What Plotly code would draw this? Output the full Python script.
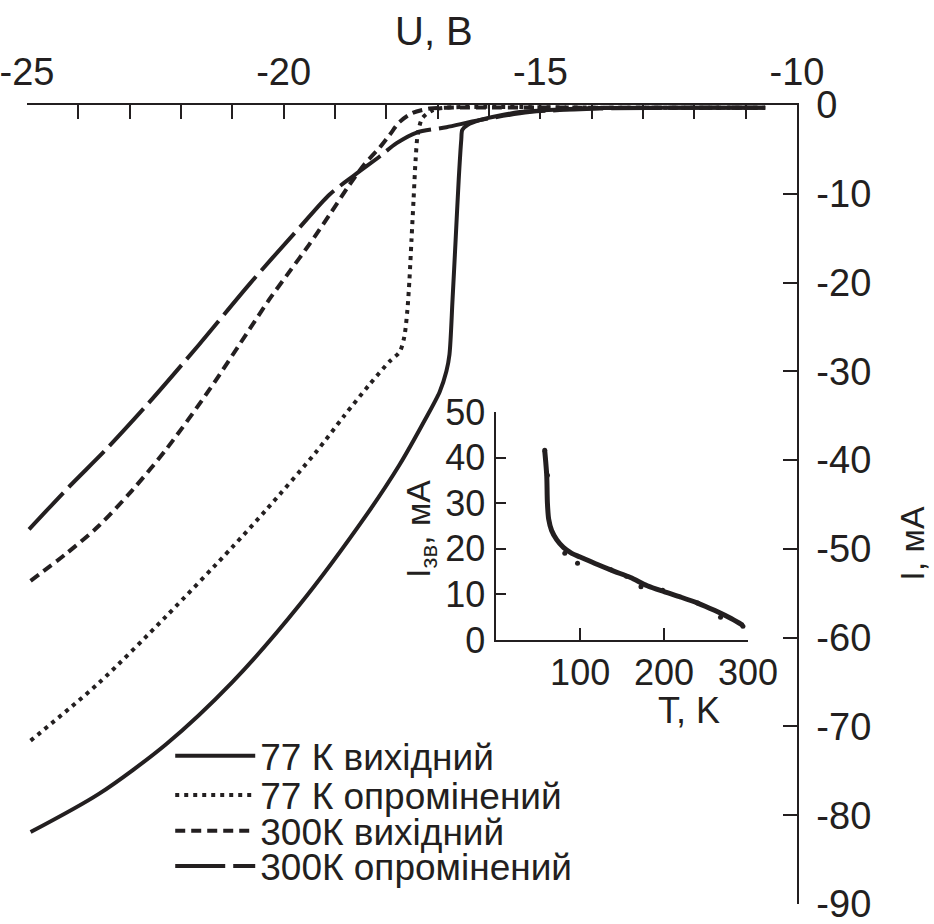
import plotly.graph_objects as go

INK = "#231f20"
FONT = "Liberation Sans, Arial, sans-serif"

# ---- main chart data: U (V) vs I (mA) ----
u_77_init = [-24.93, -23.60, -22.29, -21.00, -19.69, -18.39, -17.74, -17.26, -16.96, -16.83,
             -16.77, -16.71, -16.65, -16.59, -16.54, -16.52, -16.42, -16.18, -15.40, -14.62,
             -13.84, -12.28, -10.62]
i_77_init = [-81.9, -77.6, -72.0, -65.0, -56.3, -46.2, -40.5, -35.6, -32.3, -30.0,
             -28.1, -21.9, -15.2, -8.4, -3.9, -2.8, -2.25, -1.7, -0.8, -0.5,
             -0.35, -0.3, -0.3]

u_77_irr = [-24.93, -23.60, -22.29, -21.00, -20.34, -19.37, -18.82, -18.33, -17.94, -17.74,
            -17.65, -17.59, -17.55, -17.51, -17.47, -17.43, -17.39, -17.30, -17.10, -16.83,
            -13.84, -10.62]
i_77_irr = [-71.6, -65.1, -57.6, -49.8, -45.6, -39.1, -35.0, -31.5, -28.9, -27.8,
            -26.1, -23.1, -19.7, -15.2, -10.7, -6.2, -3.4, -1.5, -0.6, -0.3,
            -0.3, -0.3]

u_300_init = [-24.93, -24.25, -23.60, -22.95, -22.29, -21.45, -20.67, -20.28, -19.89, -19.50,
              -19.11, -18.72, -18.43, -18.13, -17.94, -17.74, -17.49, -17.16, -16.83, -13.84,
              -10.62]
i_300_init = [-53.6, -50.6, -47.4, -43.4, -38.8, -32.1, -25.3, -21.9, -18.8, -15.7,
              -12.4, -9.0, -6.7, -4.8, -3.4, -1.9, -0.9, -0.4, -0.3, -0.3,
              -0.3]

u_300_irr = [-24.96, -24.18, -23.46, -22.62, -21.65, -20.67, -19.69, -19.11, -18.62, -18.13,
             -17.80, -17.41, -16.83, -16.18, -15.21, -13.84, -11.89, -10.62]
i_300_irr = [-47.8, -43.0, -38.8, -33.5, -27.0, -20.2, -13.8, -10.1, -7.9, -5.8,
             -4.3, -3.1, -2.5, -1.7, -0.8, -0.4, -0.3, -0.3]

# ---- inset data: T (K) vs I_зв (mA) ----
t_fit = [57.8, 59, 60.2, 61, 62.5, 66, 72, 80, 90, 100, 120, 140, 160, 180, 200,
         220, 240, 260, 280, 294]
i_fit = [41.5, 39, 36, 30, 26.5, 24, 22, 20.3, 19.0, 18.2, 16.6, 15.1, 13.7, 11.9, 10.6,
         9.4, 8.1, 6.5, 4.7, 3.2]
t_pts = [57.8, 61.0, 81.7, 96.9, 136.7, 155.4, 172.5, 198.4, 240.2, 267.3, 294.0]
i_pts = [41.6, 36.1, 19.0, 16.8, 15.4, 14.0, 11.7, 10.9, 8.1, 5.0, 3.0]

x_ticks = [-25, -20, -15, -10]
x_ticktext = ["-25", "-20", "-15", "-10"]
y_ticks = [0, -10, -20, -30, -40, -50, -60, -70, -80, -90]
y_ticktext = ["0", "-10", "-20", "-30", "-40", "-50", "-60", "-70", "-80", "-90"]
t_ticks = [100, 200, 300]
iz_ticks = [0, 10, 20, 30, 40, 50]

names = ["77 К вихідний", "77 К опромінений", "300К вихідний", "300К опромінений"]
dashes = ["solid", "4px,5px", "10px,6px", "50px,8px"]
series = [(u_77_init, i_77_init), (u_77_irr, i_77_irr),
          (u_300_init, i_300_init), (u_300_irr, i_300_irr)]
legend_ids = ["legend", "legend2", "legend3", "legend4"]
legend_y = [0.185, 0.136, 0.091, 0.047]

fig = go.Figure()
for (u, i), nm, dsh, lid in zip(series, names, dashes, legend_ids):
    fig.add_trace(go.Scatter(x=u, y=i, mode="lines", name=nm, legend=lid,
                             line=dict(color=INK, width=4, dash=dsh, shape="spline",
                                       smoothing=0.8),
                             xaxis="x", yaxis="y"))

fig.add_trace(go.Scatter(x=t_fit, y=i_fit, mode="lines", showlegend=False,
                         line=dict(color=INK, width=5, shape="spline", smoothing=0.8),
                         xaxis="x2", yaxis="y2"))
fig.add_trace(go.Scatter(x=t_pts, y=i_pts, mode="markers", showlegend=False,
                         marker=dict(color=INK, size=5),
                         xaxis="x2", yaxis="y2"))

tickfont = dict(family=FONT, size=38, color=INK)
insetfont = dict(family=FONT, size=36, color=INK)

common = dict(showline=True, linecolor=INK, linewidth=1.5, showgrid=False, zeroline=False,
              tickcolor=INK, tickwidth=1.5, automargin=False, ticklabeloverflow="allow")

layout = dict(
    template="none",
    width=934, height=924,
    margin=dict(l=27, r=137, t=105, b=20, autoexpand=False),
    paper_bgcolor="white", plot_bgcolor="white",
    font=dict(family=FONT, color=INK),
    xaxis=dict(domain=[0, 1], range=[-25, -10], side="top", anchor="y",
               tickmode="array", tickvals=x_ticks, ticktext=x_ticktext,
               ticks="inside", ticklen=14,
               minor=dict(dtick=1, ticks="inside", ticklen=14, tickwidth=1.5, tickcolor=INK),
               tickfont=tickfont, ticklabelstandoff=3, **common),
    yaxis=dict(domain=[0, 1], range=[-90, 0], side="right", anchor="x",
               tickmode="array", tickvals=y_ticks, ticktext=y_ticktext,
               ticks="inside", ticklen=14,
               tickfont=tickfont, ticklabelstandoff=10, **common),
    xaxis2=dict(domain=[0.6094, 0.9363], range=[0, 300], anchor="y2",
                tickvals=t_ticks, ticks="inside", ticklen=12,
                tickfont=insetfont, ticklabelstandoff=0, **common),
    yaxis2=dict(domain=[0.3304, 0.6159], range=[0, 50], anchor="x2",
                tickvals=iz_ticks, ticks="inside", ticklen=10,
                tickfont=insetfont, ticklabelstandoff=2, **common),
    showlegend=True,
)
for lid, ly in zip(legend_ids, legend_y):
    layout[lid] = dict(x=0.1860, y=ly, xanchor="left", yanchor="middle",
                       bgcolor="rgba(0,0,0,0)", borderwidth=0, itemwidth=80,
                       font=dict(family=FONT, size=37, color=INK))

fig.update_layout(**layout)

ann = [
    dict(text="U, В", x=0.528, y=1.0925, font=dict(family=FONT, size=40, color=INK)),
    dict(text="I, мА", x=1.1495, y=0.451, textangle=-90,
         font=dict(family=FONT, size=34, color=INK)),
    dict(text="I<sub>зв</sub>, мА", x=0.511, y=0.47, textangle=-90,
         font=dict(family=FONT, size=34, color=INK)),
    dict(text="T, K", x=0.8596, y=0.242, font=dict(family=FONT, size=36, color=INK)),
]
for a in ann:
    a.update(xref="paper", yref="paper", showarrow=False, xanchor="center", yanchor="middle")
fig.update_layout(annotations=ann)

fig.write_html("out.html")
